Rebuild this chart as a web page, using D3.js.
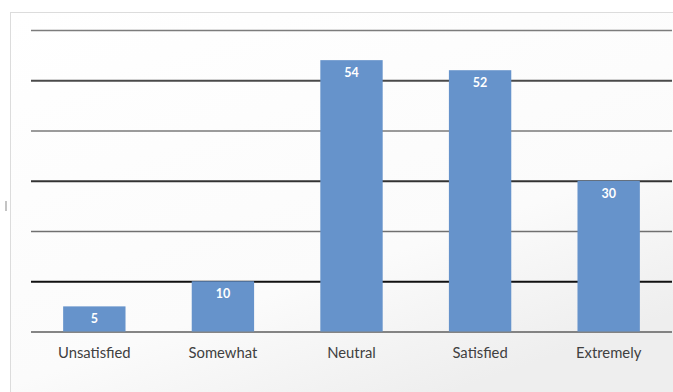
<!DOCTYPE html>
<html>
<head>
<meta charset="utf-8">
<script src="https://cdn.jsdelivr.net/npm/d3@7"></script>
<style>
  html, body { margin: 0; padding: 0; background: #ffffff; }
  svg { display: block; }
</style>
</head>
<body>
<svg id="chart" width="673" height="392"></svg>
<script>
// Survey responses by satisfaction level
const categories = ["Unsatisfied", "Somewhat", "Neutral", "Satisfied", "Extremely"];
const responses = [5, 10, 54, 52, 30];
const yTicks = [0, 10, 20, 30, 40, 50, 60];

const width = 673, height = 392;
const svg = d3.select("#chart");

// Panel background with a soft gradient toward the lower right
const defs = svg.append("defs");
const grad = defs.append("linearGradient")
  .attr("id", "panelFill")
  .attr("x1", "0%").attr("y1", "0%")
  .attr("x2", "60%").attr("y2", "100%");
grad.append("stop").attr("offset", "0%").attr("stop-color", "#ffffff");
grad.append("stop").attr("offset", "70%").attr("stop-color", "#fbfbfb");
grad.append("stop").attr("offset", "100%").attr("stop-color", "#eeeeee");

svg.append("rect")
  .attr("x", 10.5).attr("y", 12.5)
  .attr("width", width).attr("height", height)
  .attr("fill", "url(#panelFill)")
  .attr("stroke", "#dcdcdc")
  .attr("stroke-width", 1);

// small mark on the left edge of the panel
svg.append("line")
  .attr("x1", 6).attr("x2", 6)
  .attr("y1", 201).attr("y2", 211)
  .attr("stroke", "#c4c4c4").attr("stroke-width", 2);

const x = d3.scaleBand()
  .domain(categories)
  .range([31, 672])
  .paddingInner(0.515)
  .paddingOuter(0.25);

const y = d3.scaleLinear()
  .domain([0, 60])
  .range([331.5, 30]);

// Horizontal gridlines
const gridStyle = {
  0: ["#5e5e5e", 1.6], 10: ["#111111", 2.2], 20: ["#707070", 1.6],
  30: ["#333333", 1.8], 40: ["#7a7a7a", 1.6], 50: ["#4a4a4a", 1.8], 60: ["#7c7c7c", 1.6]
};
const yAxis = d3.axisLeft(y)
  .tickValues(yTicks)
  .tickSize(-(672 - 31))
  .tickFormat("");
const gAxis = svg.append("g")
  .attr("transform", "translate(31,0)")
  .call(yAxis);
gAxis.select(".domain").remove();
gAxis.selectAll(".tick line")
  .attr("stroke", d => gridStyle[d][0])
  .attr("stroke-width", d => gridStyle[d][1]);

// Bars
svg.append("g")
  .selectAll("rect")
  .data(responses)
  .join("rect")
  .attr("x", (d, i) => x(categories[i]))
  .attr("y", d => y(d))
  .attr("width", x.bandwidth())
  .attr("height", d => y(0) - y(d))
  .attr("fill", "#6693cb");

// Value labels inside the top of each bar
svg.append("g")
  .selectAll("text")
  .data(responses)
  .join("text")
  .attr("x", (d, i) => x(categories[i]) + x.bandwidth() / 2)
  .attr("y", d => y(d) + 17)
  .attr("text-anchor", "middle")
  .attr("font-family", "Lato, 'Open Sans', sans-serif")
  .attr("font-weight", "bold")
  .attr("font-size", 12.5)
  .attr("fill", "#ffffff")
  .text(d => d);

// Category labels
const xAxis = d3.axisBottom(x).tickSize(0).tickPadding(16);
const gx = svg.append("g")
  .attr("transform", `translate(0,${y(0)})`)
  .call(xAxis);
gx.select(".domain").remove();
gx.selectAll(".tick text")
  .attr("font-family", "Lato, 'Open Sans', sans-serif")
  .attr("font-size", 14.8)
  .attr("fill", "#404040");
</script>
</body>
</html>
